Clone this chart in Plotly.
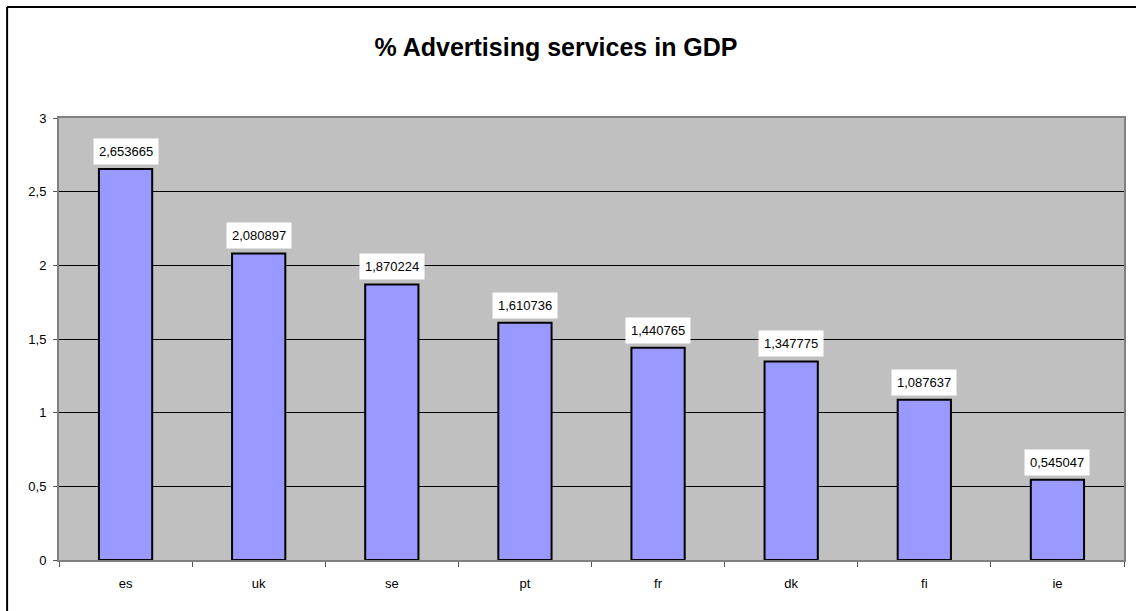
import plotly.graph_objects as go

categories = ["es", "uk", "se", "pt", "fr", "dk", "fi", "ie"]
values = [2.653665, 2.080897, 1.870224, 1.610736, 1.440765, 1.347775, 1.087637, 0.545047]
title_text = "% Advertising services in GDP"

W, H = 1136, 611
L, R, T, B = 59, 10, 118, 51
pw, ph = W - L - R, H - T - B

fig = go.Figure()
fig.add_trace(go.Bar(
    x=categories, y=values,
    marker=dict(color="#9999FF", line=dict(color="black", width=2)),
    hoverinfo="x+y",
))

for c, v in zip(categories, values):
    fig.add_annotation(
        x=c, y=v, xref="x", yref="y",
        text=f"{v:.6f}".replace(".", ","),
        showarrow=False, yanchor="bottom", yshift=4,
        bgcolor="white", borderpad=5,
        font=dict(family="Arial, Liberation Sans", size=13, color="black"),
    )

# outer chart border: only left and top edges are visible in the frame
bx = (7 - L) / pw
by = (H - B - 7) / ph
fig.add_shape(type="line", xref="paper", yref="paper",
              x0=bx, x1=bx, y0=-1, y1=by, line=dict(color="black", width=2), layer="below")
fig.add_shape(type="line", xref="paper", yref="paper",
              x0=bx, x1=1.2, y0=by, y1=by, line=dict(color="black", width=2), layer="below")

fig.update_layout(
    width=W, height=H,
    margin=dict(l=L, r=R, t=T, b=B),
    paper_bgcolor="white", plot_bgcolor="#C0C0C0",
    separators=",.",
    bargap=0.6,
    showlegend=False,
    font=dict(family="Arial, Liberation Sans", size=13, color="black"),
    title=dict(text=f"<b>{title_text}</b>", x=556 / W, xanchor="center",
               xref="container", yref="container", y=1 - 47 / H, yanchor="middle",
               font=dict(family="Arial, Liberation Sans", size=25, color="black")),
    xaxis=dict(showgrid=False, ticks="outside", tickson="boundaries", ticklen=5,
               tickcolor="#555555", showline=True, linecolor="#808080", linewidth=2,
               mirror=True, tickfont=dict(size=13), ticklabelstandoff=10),
    yaxis=dict(range=[0, 3], dtick=0.5, showgrid=True, gridcolor="black", gridwidth=1,
               ticks="outside", ticklen=4, tickcolor="#555555", showline=True,
               linecolor="#808080", linewidth=2, mirror=True, zeroline=False,
               tickfont=dict(size=13), ticklabelstandoff=4),
)

fig.write_html("out.html")
